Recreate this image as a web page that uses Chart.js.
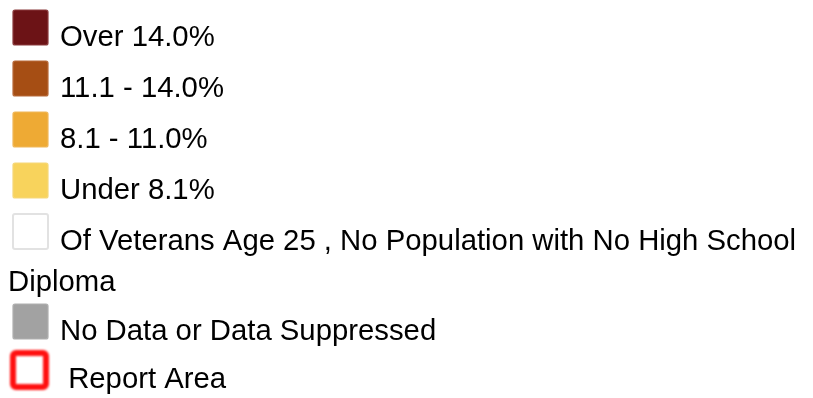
<!DOCTYPE html>
<html>
<head>
<meta charset="utf-8">
<script src="https://cdn.jsdelivr.net/npm/chart.js@4"></script>
<style>
  html, body { margin: 0; padding: 0; background: #fff; }
  #legendBox { width: 813px; height: 398px; }
</style>
</head>
<body>
<div id="legendBox"><canvas id="legendChart"></canvas></div>
<script>
// legend classes for the veterans map
const classLabels = [
    "Over 14.0%",
    "11.1 - 14.0%",
    "8.1 - 11.0%",
    "Under 8.1%",
    "Of Veterans Age 25 , No Population with No High School Diploma",
    "No Data or Data Suppressed",
    " Report Area"
];
const classColors = ["#6c1316", "#a64e14", "#eeaa34", "#f8d35c", "#ffffff", "#a2a2a2", "#ffffff"];
const classBorders = ["#8a3a3c", "#b86a3a", "#f0b85a", "#f5d87a", "#e2e2e2", "#b0b0b0", "#ff1010"];

// draws the swatch list from the chart's datasets
const swatchLegend = {
    id: "swatchLegend",
    afterDraw(chart) {
        const ctx = chart.ctx;
        const font = "29.3px 'Liberation Sans', Arial, sans-serif";
        const last = chart.data.datasets.length - 1;
        ctx.save();
        ctx.font = font;
        ctx.textBaseline = "alphabetic";
        let top = 10;
        chart.data.datasets.forEach((ds, i) => {
            const x = 13, size = 35;
            if (i === last) {
                // report area outline sits a little higher
                top -= 3;
                ctx.save();
                ctx.filter = "blur(1.3px)";
                ctx.strokeStyle = ds.borderColor;
                ctx.lineWidth = 6;
                ctx.beginPath();
                ctx.roundRect(13, top + 1, 33, 34, 3);
                ctx.stroke();
                ctx.restore();
            } else {
                ctx.fillStyle = ds.backgroundColor;
                ctx.strokeStyle = ds.borderColor;
                ctx.lineWidth = ds.backgroundColor === "#ffffff" ? 2 : 1.2;
                ctx.beginPath();
                ctx.roundRect(x, top, size, size, 2);
                ctx.fill();
                ctx.stroke();
            }

            // wrap text like inline html: first line after swatch, later lines from the left edge
            ctx.fillStyle = "#000";
            const words = ds.label.split(" ");
            let line = "";
            let lineX = 60;
            let baseline = top + 36;
            const right = 808;
            words.forEach((w, k) => {
                const test = k === 0 ? w : line + " " + w;
                if (line && lineX + ctx.measureText(test).width > right) {
                    ctx.fillText(line, lineX, baseline);
                    line = w;
                    lineX = 8;
                    baseline += 41;
                    top += 39;
                } else {
                    line = test;
                }
            });
            ctx.fillText(line, lineX, baseline);
            top += 51;
        });
        ctx.restore();
    }
};

new Chart(document.getElementById("legendChart"), {
    type: "bar",
    data: {
        labels: [],
        datasets: classLabels.map((label, i) => ({
            label: label,
            data: [],
            backgroundColor: classColors[i],
            borderColor: classBorders[i]
        }))
    },
    options: {
        responsive: true,
        maintainAspectRatio: false,
        animation: false,
        events: [],
        plugins: {
            legend: { display: false },
            tooltip: { enabled: false }
        },
        scales: {
            x: { display: false },
            y: { display: false }
        }
    },
    plugins: [swatchLegend]
});
</script>
</body>
</html>
